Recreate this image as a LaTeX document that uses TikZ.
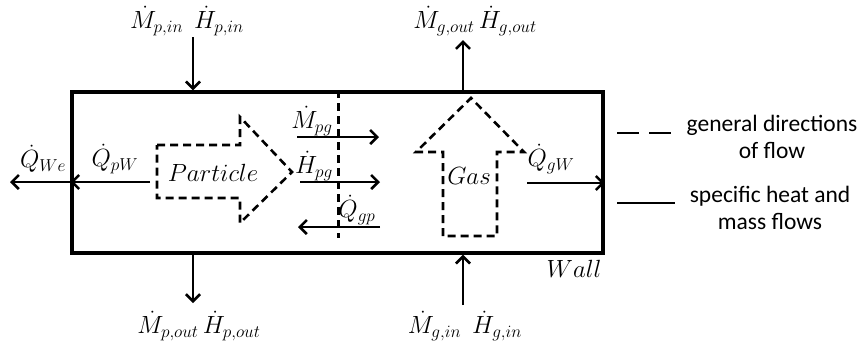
\documentclass[tikz,border=0pt]{standalone}
\usepackage{fontspec}
\setmainfont{Carlito}
\usetikzlibrary{arrows.meta, positioning}
\tikzset{
  wallbox/.style={draw, line width=3.4pt, minimum width=531pt, minimum height=161pt, inner sep=0pt},
  flow/.style={-{Straight Barb[length=7pt,width=14pt]}, line width=2.6pt},
  dir/.style={line width=2.6pt, dash pattern=on 8pt off 5pt},
  lbl/.style={font=\fontsize{24}{28}\selectfont, inner sep=1pt},
  legend/.style={font=\fontsize{23.5}{27}\selectfont, align=center, inner sep=1pt},
}
\begin{document}
\begin{tikzpicture}[x=1pt, y=-1pt]
  \useasboundingbox (0,0) rectangle (863,349);

  % control volume
  \node[wallbox] (box) at (337.5,172.5) {};
  \node[lbl, anchor=north east] (wall) at ([xshift=-2pt,yshift=-4pt]box.south east) {$Wall$};

  % general directions
  \coordinate (split) at (338,238);
  \draw[dir, line width=3pt] (split |- box.north) -- (split);
  \draw[dir] (157,145) -- (240,145) -- (240,117) -- (292,172) -- (240,223) -- (240,198) -- (157,198) -- cycle;
  \node[lbl] (part) at (213,173) {$Particle$};
  \draw[dir] (443,236) -- (443,152) -- (416,152) -- (471,98) -- (524,152) -- (497,152) -- (497,236) -- cycle;
  \node[lbl] (gas) at (469,176) {$Gas$};

  % inlets / outlets
  \node[lbl] (pin) at (187,21) {$\dot M_{p,in}\ \ \dot H_{p,in}$};
  \node[lbl] (gout) at (475,21) {$\dot M_{g,out}\,\dot H_{g,out}$};
  \node[lbl] (pout) at (199,326) {$\dot M_{p,out}\,\dot H_{p,out}$};
  \node[lbl] (gin) at (465,326) {$\dot M_{g,in}\ \ \dot H_{g,in}$};
  \coordinate (pinS) at (193,37);
  \coordinate (goutE) at (463,40);
  \coordinate (poutE) at (193,303);
  \coordinate (ginS) at (463,305);
  \draw[flow] (pinS) -- (pinS |- box.north);
  \draw[flow] (goutE |- box.north) -- (goutE);
  \draw[flow] (poutE |- box.south) -- (poutE);
  \draw[flow] (ginS) -- (ginS |- box.south);

  % heat flows to the wall
  \node[lbl] (qwe) at (43,159) {$\dot Q_{We}$};
  \node[lbl] (qpw) at (115,159) {$\dot Q_{pW}$};
  \coordinate (qpwS) at (150,182);
  \coordinate (qweE) at (10,182);
  \draw[flow] (qpwS) -- (qpwS -| box.west);
  \draw[flow] (qpwS -| box.west) -- (qweE);
  \node[lbl] (qgw) at (551,159) {$\dot Q_{gW}$};
  \coordinate (qgwS) at (527,183);
  \draw[flow] (qgwS) -- (qgwS -| box.east);

  % exchange particle <-> gas
  \node[lbl] (mpg) at (312,121) {$\dot M_{pg}$};
  \node[lbl] (hpg) at (314,166) {$\dot H_{pg}$};
  \node[lbl] (qgp) at (357,210) {$\dot Q_{gp}$};
  \draw[flow] (297,137) coordinate (mpgS) -- (379,137) coordinate (mpgE);
  \draw[flow] (300,182) coordinate (hpgS) -- (380,182) coordinate (hpgE);
  \draw[flow] (380,227) coordinate (qgpS) -- (298,227) coordinate (qgpE);

  % legend
  \coordinate (legA) at (617,133);
  \coordinate (legB) at (617,203);
  \draw[dir, line width=2.6pt, dash pattern=on 22pt off 10pt] (legA) -- ++(58,0) coordinate (legAE);
  \draw[line width=2.6pt] (legB) -- ++(58,0) coordinate (legBE);
  \node[legend] (legdir) at (772,137) {general directions\\of flow};
  \node[legend] (legflow) at (770,208) {specific heat and\\mass flows};
\end{tikzpicture}
\end{document}
